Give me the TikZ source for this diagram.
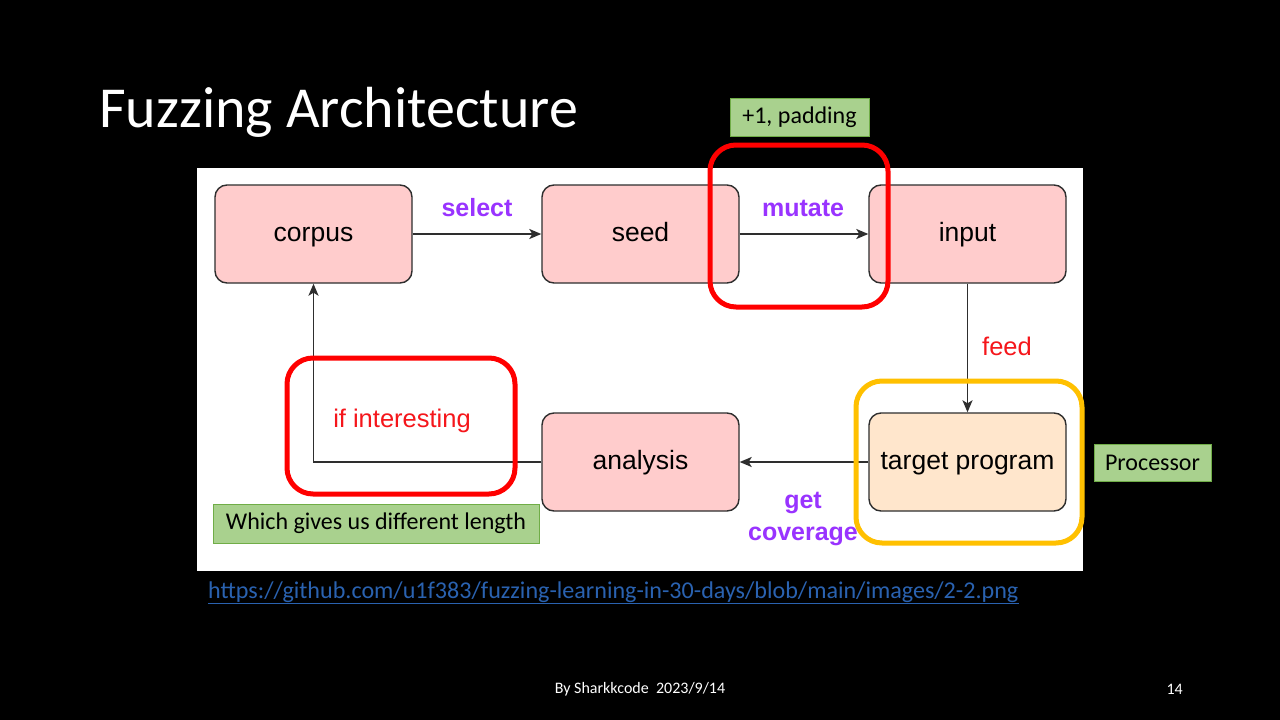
\documentclass[tikz,border=0pt]{standalone}
\usepackage{fontspec}
\setmainfont{Carlito}
\newfontfamily\diagfont{Liberation Sans}
\usetikzlibrary{arrows.meta}
\definecolor{boxpink}{HTML}{FFCCCC}
\definecolor{boxpeach}{HTML}{FFE6CC}
\definecolor{edgegray}{HTML}{2E2E2E}
\definecolor{lblpurple}{HTML}{9933FF}
\definecolor{lblred}{HTML}{F5161B}
\definecolor{hlred}{HTML}{FF0000}
\definecolor{hlyellow}{HTML}{FFC000}
\definecolor{notegreen}{HTML}{A9D18E}
\definecolor{notegreenline}{HTML}{70AD47}
\definecolor{linkblue}{HTML}{2A62B0}
\tikzset{
  pbox/.style={draw=edgegray, line width=1.4pt, fill=boxpink, rounded corners=12pt,
    minimum width=197pt, minimum height=98pt, inner sep=0pt,
    text height=19pt, text depth=5pt,
    font=\diagfont\fontsize{26.5}{30}\selectfont, text=black},
  flow/.style={draw=edgegray, line width=1.7pt,
    -{Stealth[length=12pt,width=10pt,inset=3pt]}},
  lblp/.style={font=\diagfont\bfseries\fontsize{25}{32}\selectfont, text=lblpurple, align=center, inner sep=0pt},
  lblr/.style={font=\diagfont\fontsize{25.5}{30}\selectfont, text=lblred, inner sep=0pt},
  hlbox/.style={line width=5pt, rounded corners=26pt},
  note/.style={draw=notegreenline, line width=0.8pt, fill=notegreen, inner sep=0pt,
    font=\fontsize{24}{28}\selectfont, text=black},
}
\begin{document}
\begin{tikzpicture}[x=1pt,y=-1pt]
  % slide background
  \fill[black] (0,0) rectangle (1280,720);
  \useasboundingbox (0,0) rectangle (1280,720);

  % title
  \node[anchor=base west, inner sep=0pt, text=white, font=\fontsize{58}{64}\selectfont]
    (title) at (99,127) {Fuzzing Architecture};

  % white panel behind the diagram
  \fill[white] (197,168) rectangle (1083,571);

  % process steps
  \node[pbox] (corpus) at (313.5,234) {corpus};
  \node[pbox] (seed) at (640.5,234) {seed};
  \node[pbox] (input) at (967.5,234) {input};
  \node[pbox, fill=boxpeach] (target) at (967.5,462) {target program};
  \node[pbox] (analysis) at (640.5,462) {analysis};

  % flow between steps
  \draw[flow] (corpus) -- (seed);
  \draw[flow] (seed) -- (input);
  \draw[flow] (input) -- (target);
  \draw[flow] (target) -- (analysis);
  \draw[flow] (analysis.west) -| (corpus.south);

  % edge labels
  \node[lblp] (selectlbl) at (477,208) {select};
  \node[lblp] (mutatelbl) at (803,208) {mutate};
  \node[lblr] (feedlbl) at (1007,346) {feed};
  \node[lblp] (coveragelbl) at (803,519) {get\\coverage};
  \node[lblr] (interestlbl) at (402,421) {if interesting};

  % highlight frames
  \draw[hlred, hlbox] (710,145) rectangle (888,307);
  \draw[hlred, hlbox] (287,358) rectangle (515,494);
  \draw[hlyellow, hlbox] (856,381) rectangle (1082,543);

  % notes
  \node[note, minimum width=139pt, minimum height=38pt] (padnote) at (799.5,117) {+1, padding};
  \node[note, minimum width=117pt, minimum height=37pt] (procnote) at (1152.5,462.5) {Processor};
  \node[note, minimum width=326pt, minimum height=39pt] (lennote) at (376,523.5) {Which gives us different length};

  % source link
  \node[anchor=base west, inner sep=0pt, text=linkblue, font=\fontsize{24.1}{28}\selectfont]
    (link) at (208,598) {\underline{https://github.com/u1f383/fuzzing-learning-in-30-days/blob/main/images/2-2.png}};

  % footer
  \node[text=white, inner sep=0pt, font=\fontsize{16}{18}\selectfont] (footer) at (640,689) {By Sharkkcode\ \ 2023/9/14};
  \node[anchor=east, text=white, inner sep=0pt, font=\fontsize{16}{18}\selectfont] (pagenum) at (1183,689) {14};
\end{tikzpicture}
\end{document}
